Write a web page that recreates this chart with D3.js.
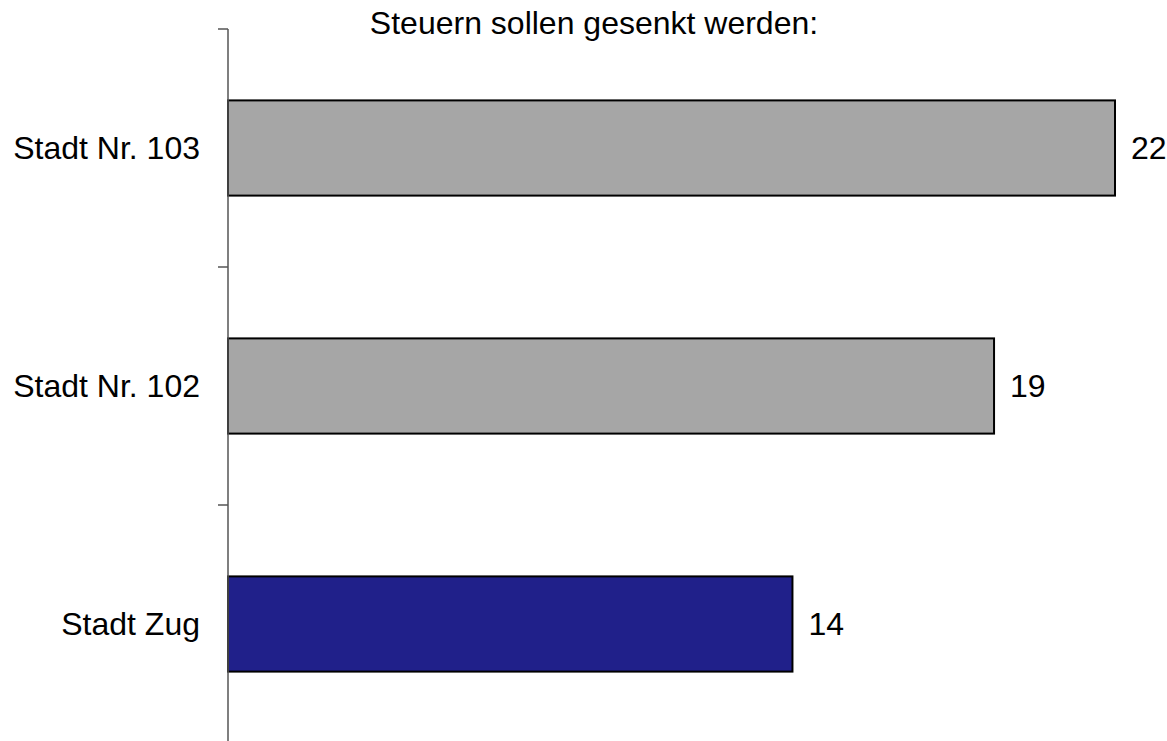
<!DOCTYPE html>
<html>
<head>
    <meta charset="utf-8">
    <title>Steuern</title>
    <script src="https://cdn.jsdelivr.net/npm/d3@7"></script>
    <style>
        body { margin: 0; background: #fff; }
        text { font-family: Arial, "Liberation Sans", sans-serif; fill: #000; }
    </style>
</head>
<body>
    <svg width="1167" height="741" id="mainsvg"></svg>
    <script>
        const title = 'Steuern sollen gesenkt werden:';
        const categories = ['Stadt Nr. 103', 'Stadt Nr. 102', 'Stadt Zug'];
        const values = [22, 19, 14];
        const barColors = ['#a6a6a6', '#a6a6a6', '#20208a'];

        const svg = d3.select('svg');
        const axisX = 228, axisTop = 29, axisBottom = 743;

        const x = d3.scaleLinear().domain([0, 22]).range([axisX, 1115]);
        const y = d3.scaleBand().domain(categories).range([axisTop, axisBottom])
            .paddingInner(0.6).paddingOuter(0.3);
        const step = y.step();

        // title
        svg.append('text').attr('x', 594).attr('y', 34)
            .attr('text-anchor', 'middle').style('font-size', '32px').text(title);

        // bars
        svg.selectAll('.bar').data(categories).join('rect').attr('class', 'bar')
            .attr('x', x(0)).attr('y', d => y(d))
            .attr('width', (d, i) => x(values[i]) - x(0)).attr('height', y.bandwidth())
            .attr('fill', (d, i) => barColors[i])
            .attr('stroke', '#000').attr('stroke-width', 2);

        // axis line + ticks between categories
        const tickYs = d3.range(categories.length + 1).map(i => axisTop + i * step);
        svg.append('line').attr('x1', axisX).attr('x2', axisX)
            .attr('y1', axisTop).attr('y2', axisBottom)
            .attr('stroke', '#555').attr('stroke-width', 1.5);
        svg.selectAll('.tick').data(tickYs).join('line').attr('class', 'tick')
            .attr('x1', axisX - 10).attr('x2', axisX).attr('y1', d => d).attr('y2', d => d)
            .attr('stroke', '#555').attr('stroke-width', 1.5);

        // category labels
        svg.selectAll('.cat').data(categories).join('text').attr('class', 'cat')
            .attr('x', 200).attr('y', d => y(d) + y.bandwidth() / 2).attr('dy', '0.35em')
            .attr('text-anchor', 'end').style('font-size', '32px').text(d => d);

        // value labels
        svg.selectAll('.val').data(values).join('text').attr('class', 'val')
            .attr('x', d => x(d) + 16).attr('y', (d, i) => y(categories[i]) + y.bandwidth() / 2)
            .attr('dy', '0.35em').style('font-size', '32px').text(d => d);
    </script>
</body>
</html>
